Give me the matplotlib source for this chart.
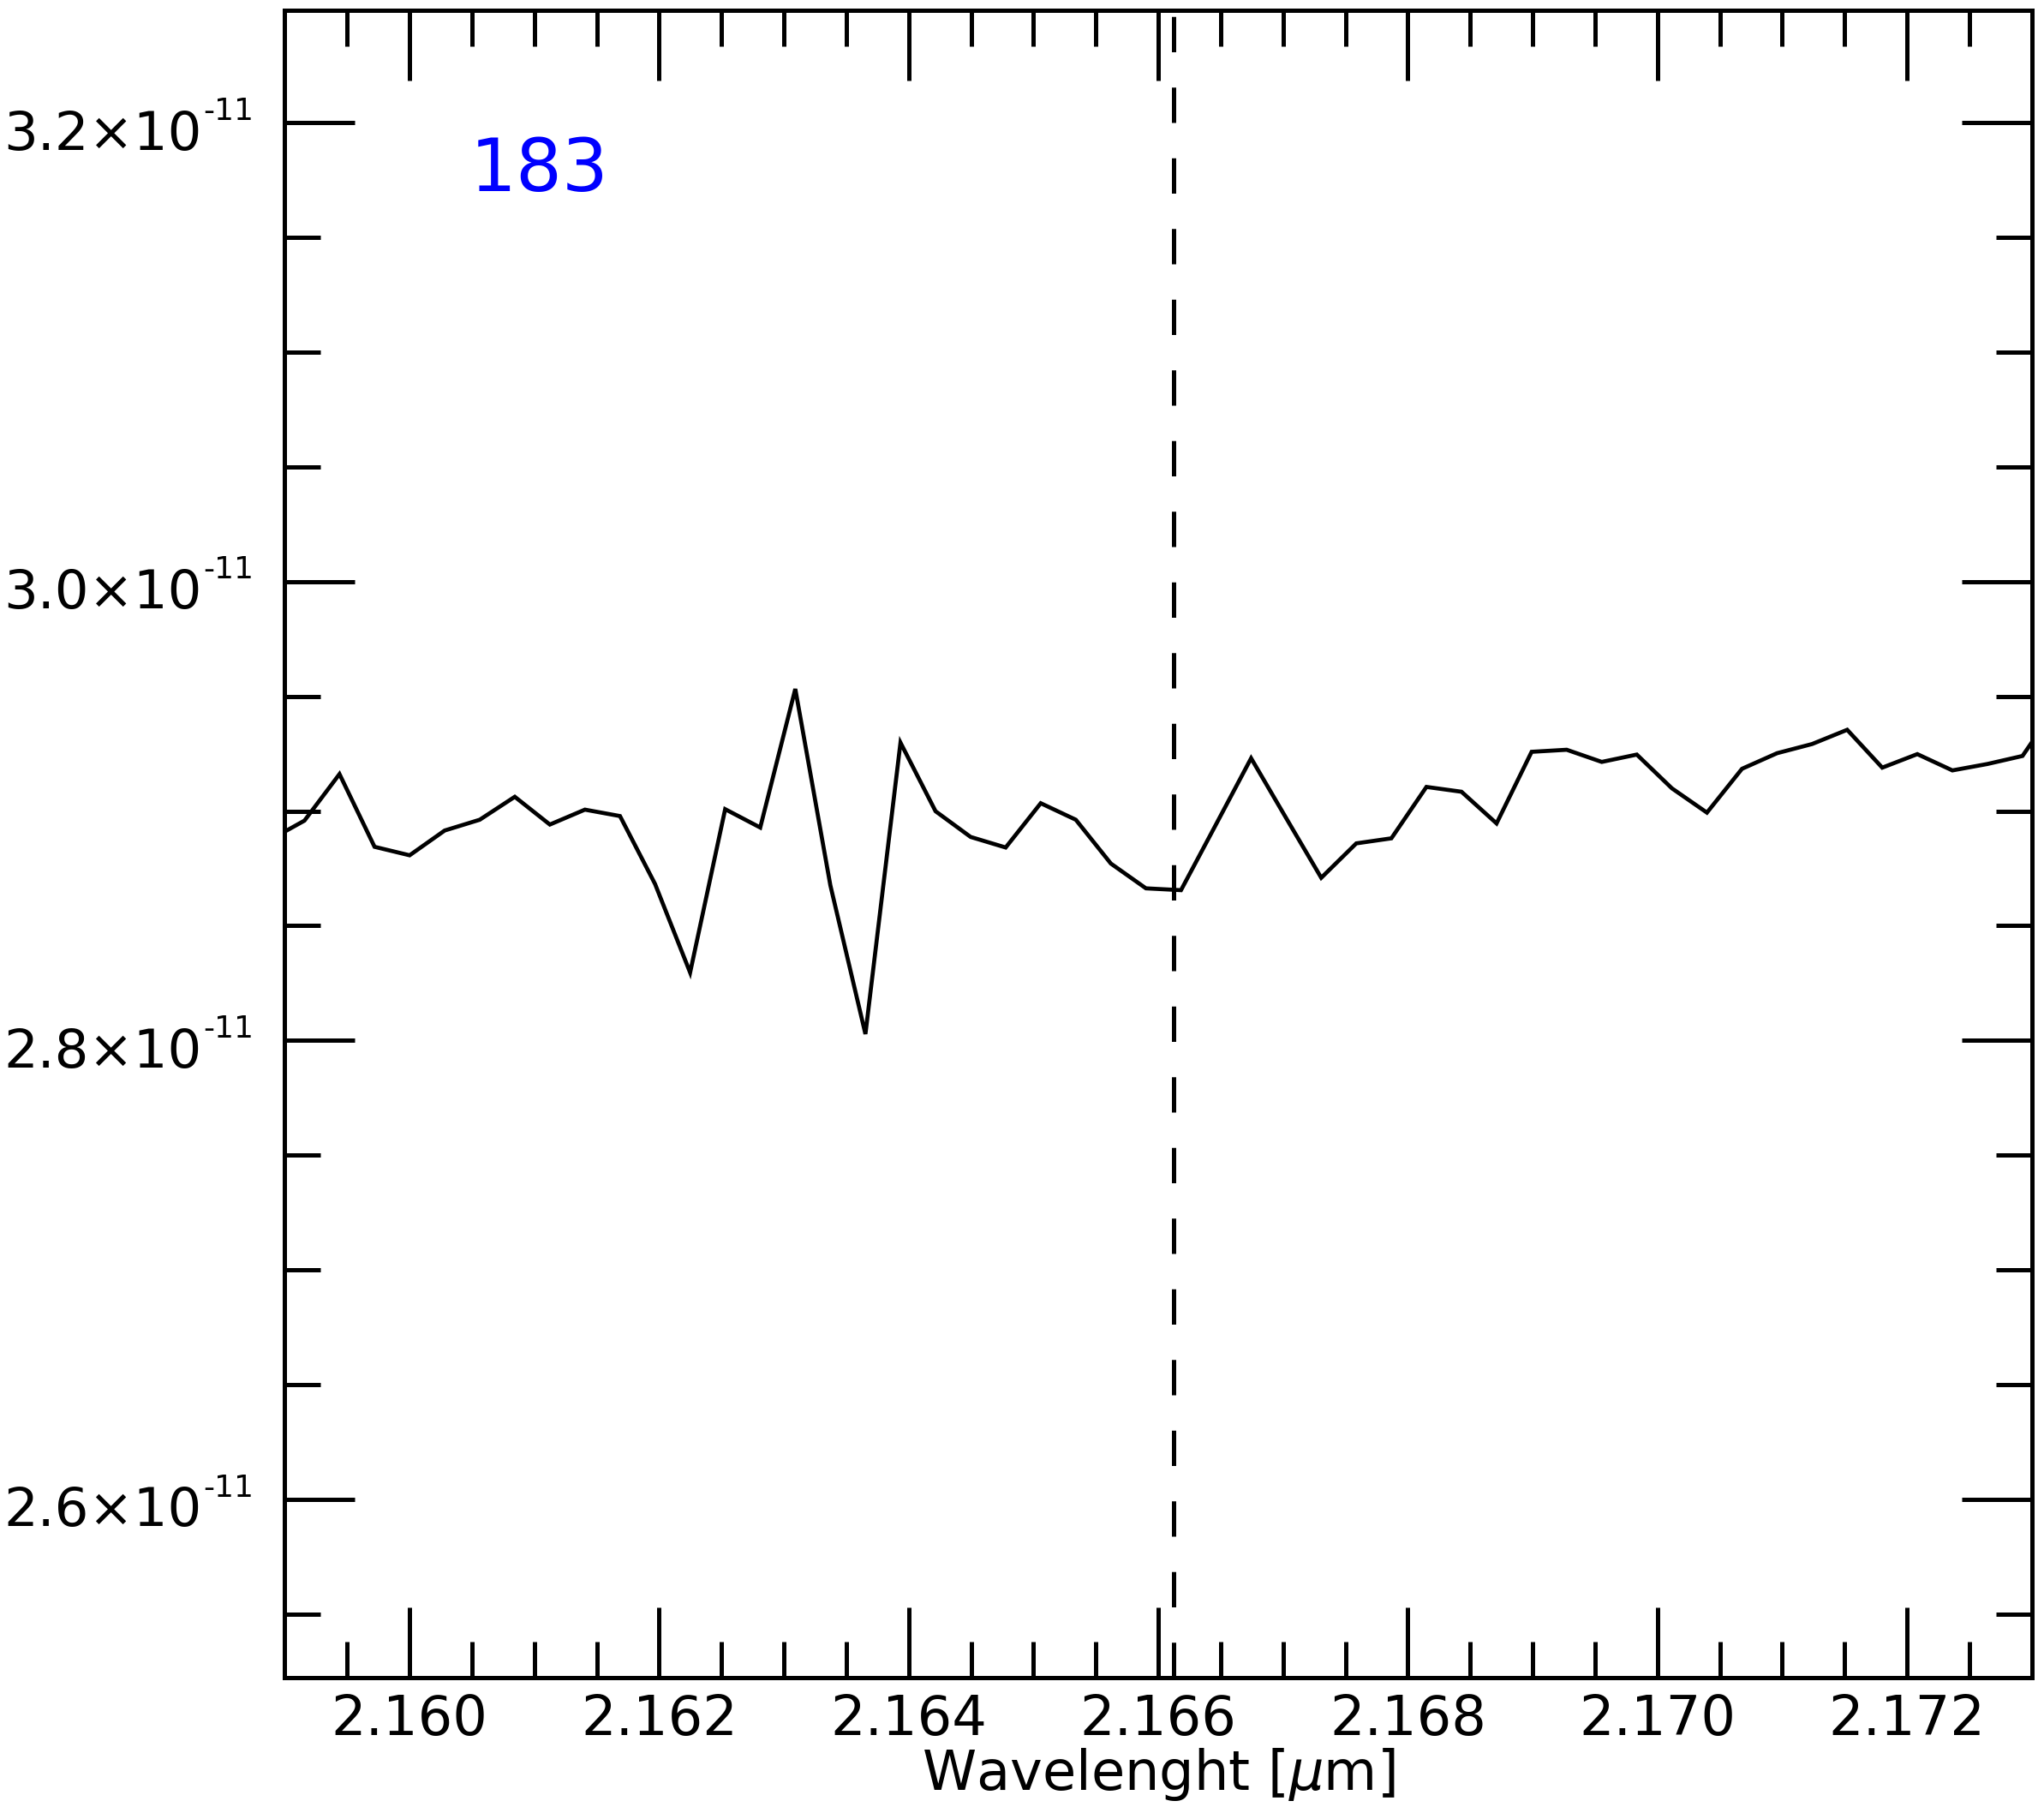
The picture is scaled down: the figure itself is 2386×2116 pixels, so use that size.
import matplotlib
matplotlib.use("Agg")
import matplotlib.pyplot as plt
from matplotlib.ticker import MultipleLocator, FixedLocator, FormatStrFormatter
from matplotlib.transforms import blended_transform_factory

# Data (wavelength in micron, flux in units of 1e-11)
wavelength = [2.158876, 2.159157, 2.159438, 2.159719, 2.160000, 2.160281, 2.160562,
              2.160843, 2.161124, 2.161405, 2.161686, 2.161967, 2.162248, 2.162529,
              2.162810, 2.163091, 2.163372, 2.163653, 2.163934, 2.164215, 2.164496,
              2.164777, 2.165058, 2.165339, 2.165620, 2.165901, 2.166182, 2.166463,
              2.166744, 2.167025, 2.167306, 2.167587, 2.167868, 2.168149, 2.168430,
              2.168711, 2.168992, 2.169273, 2.169554, 2.169835, 2.170116, 2.170397,
              2.170678, 2.170959, 2.171240, 2.171521, 2.171802, 2.172083, 2.172364,
              2.172645, 2.172926, 2.173207]
flux = [2.8873, 2.8958, 2.9161, 2.8844, 2.8807, 2.8915, 2.8962, 2.9062, 2.8941,
        2.9006, 2.8978, 2.8682, 2.8296, 2.9008, 2.8928, 2.9532, 2.8676, 2.8028,
        2.9298, 2.8999, 2.8887, 2.8841, 2.9034, 2.8962, 2.8771, 2.8663, 2.8655,
        2.8942, 2.9230, 2.8969, 2.8709, 2.8859, 2.8881, 2.9105, 2.9084, 2.8946,
        2.9258, 2.9267, 2.9214, 2.9246, 2.9099, 2.8993, 2.9184, 2.9252, 2.9292,
        2.9354, 2.9189, 2.9248, 2.9177, 2.9205, 2.9240, 2.9463]
flux_scale = 1e-11
line_center = 2.16612
label_text = "183"
ytick_values = [2.6, 2.8, 3.0, 3.2]
ytick_mantissas = ["2.6×10", "2.8×10", "3.0×10", "3.2×10"]
ytick_exponent = "-11"

W, H = 2386, 2116
fig = plt.figure(figsize=(W / 100, H / 100), dpi=100)
ax = fig.add_axes([0.13935, 0.07481, 0.85465, 0.91952])

y = [f * flux_scale for f in flux]
ax.plot(wavelength, y, color="black", lw=3.4, solid_joinstyle="miter")

dlw = 3.6
dash = 29.7
ax.axvline(line_center, color="black", lw=dlw, linestyle=(0, (dash / dlw, dash / dlw)))

ax.set_xlim(2.159, 2.173)
ax.set_ylim(2.5224e-11, 3.249e-11)

ax.xaxis.set_major_locator(MultipleLocator(0.002))
ax.xaxis.set_minor_locator(MultipleLocator(0.0005))
ax.xaxis.set_major_formatter(FormatStrFormatter("%.3f"))

ax.yaxis.set_major_locator(FixedLocator([v * flux_scale for v in ytick_values]))
ax.yaxis.set_minor_locator(MultipleLocator(0.05e-11))

for s in ax.spines.values():
    s.set_linewidth(3.6)

ax.tick_params(which="both", direction="in", top=True, right=True, width=3.6,
               labelsize=46, colors="black")
ax.tick_params(which="major", length=59)
ax.tick_params(which="minor", length=30.2)
ax.tick_params(axis="x", which="major", pad=13)
ax.tick_params(axis="y", labelleft=False)

# y tick labels: mantissa x 10 with a small raised exponent
trans = blended_transform_factory(fig.transFigure, ax.transData)
for v, m in zip(ytick_values, ytick_mantissas):
    ax.annotate(m, xy=(4 / W, v * flux_scale), xycoords=trans,
                xytext=(0, -31.5 * 0.72), textcoords="offset points",
                ha="left", va="baseline", fontsize=45, annotation_clip=False)
    ax.annotate(ytick_exponent, xy=(237 / W, v * flux_scale), xycoords=trans,
                xytext=(0, 3.3 * 0.72), textcoords="offset points",
                ha="left", va="baseline", fontsize=26, annotation_clip=False)

ax.set_xlabel(r"Wavelenght [$\mu$m]", fontsize=46, labelpad=0)

ax.text(0.1062, 0.8914, label_text, transform=ax.transAxes, color="blue",
        fontsize=61, ha="left", va="baseline")

fig.savefig("out.png", dpi=100)
